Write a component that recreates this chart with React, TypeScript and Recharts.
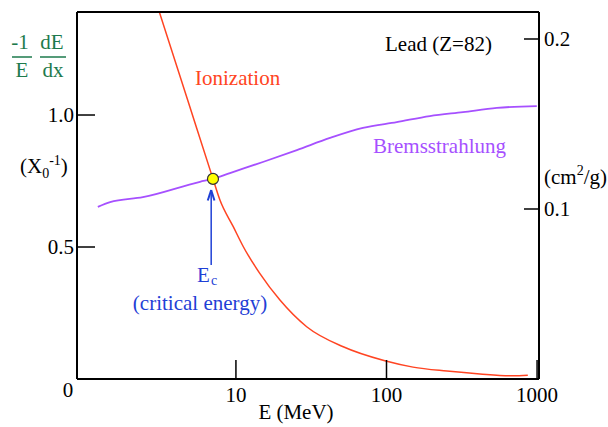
import { LineChart, Line, XAxis, YAxis, ReferenceDot, ReferenceLine } from 'recharts'

// energy loss per radiation length in lead
const ionE = [3.1, 4.78, 7.04, 7.83, 9.6, 11.2, 14.4, 19.6, 29.5, 51.6, 97.5, 150, 252, 417, 690, 868]
const ionV = [1.39, 1.057, 0.758, 0.678, 0.577, 0.501, 0.4, 0.299, 0.198, 0.122, 0.069, 0.045, 0.03, 0.019, 0.012, 0.014]

const bremE = [1.21, 1.46, 2.41, 5.77, 7.04, 9.13, 15.1, 25.4, 42.1, 69.7, 117, 194, 322, 541, 996]
const bremV = [0.652, 0.67, 0.689, 0.747, 0.758, 0.78, 0.822, 0.867, 0.913, 0.951, 0.973, 0.996, 1.011, 1.027, 1.034]

const xTicks = [10, 100, 1000]
const leftTicks = [0.5, 1.0]
const rightTicks = [0.1, 0.2]

const critE = 7.04
const critV = 0.758
// arrow pointing at the critical energy
const arrowE = 6.85
const arrowFrom = 0.432
const arrowTip = 0.716
const headLeftE = 6.5
const headRightE = 7.2
const headBase = 0.676

const ionData = ionE.map((e, i) => ({ e, v: ionV[i] }))
const bremData = bremE.map((e, i) => ({ e, v: bremV[i] }))

const FONT = 'Liberation Serif, Tinos, Times New Roman, DejaVu Serif, serif'
const RED = '#ff4422'
const PURPLE = '#a650ff'
const BLUE = '#1f40d6'
const GREEN = '#1d7a4c'

function LeftTick(p: any) {
  return (
    <g>
      <line x1={p.x} x2={p.x + 18} y1={p.y} y2={p.y} stroke="#000" strokeWidth={1.5} />
      <text x={p.x - 3} y={p.y + 7} textAnchor="end" fill="#000" fontFamily={FONT} fontSize={21}>{p.payload.value.toFixed(1)}</text>
    </g>
  )
}

function RightTick(p: any) {
  return (
    <g>
      <line x1={p.x - 15} x2={p.x} y1={p.y} y2={p.y} stroke="#000" strokeWidth={1.5} />
      <text x={p.x + 5} y={p.y + 7} textAnchor="start" fill="#000" fontFamily={FONT} fontSize={21}>{p.payload.value.toFixed(1)}</text>
    </g>
  )
}

function BottomTick(p: any) {
  return (
    <g>
      <line x1={p.x} x2={p.x} y1={p.y} y2={p.y - 19} stroke="#000" strokeWidth={1.5} />
      <text x={p.x} y={p.y + 23} textAnchor="middle" fill="#000" fontFamily={FONT} fontSize={21}>{p.payload.value}</text>
    </g>
  )
}

export default function App() {
  return (
    <div style={{ position: 'absolute', left: 0, top: 0, width: 608, height: 427, background: '#fff' }}>
      <LineChart width={608} height={427} margin={{ top: 0, right: 0, bottom: 0, left: 0 }}>
        <XAxis dataKey="e" type="number" scale="log" domain={[0.88, 1030]} allowDataOverflow ticks={xTicks}
          height={48} tickSize={0} tickMargin={0} tick={<BottomTick />} axisLine={{ stroke: '#000', strokeWidth: 2 }} />
        <XAxis xAxisId="top" orientation="top" dataKey="e" type="number" scale="log" domain={[0.88, 1030]}
          allowDataOverflow height={12} tick={false} tickLine={false} axisLine={{ stroke: '#000', strokeWidth: 2 }} />
        <YAxis yAxisId="left" type="number" domain={[0, 1.3902]} allowDataOverflow ticks={leftTicks} width={77}
          tickSize={0} tickMargin={0} tick={<LeftTick />} axisLine={{ stroke: '#000', strokeWidth: 2 }} />
        <YAxis yAxisId="right" orientation="right" type="number" domain={[0, 0.21588]} allowDataOverflow ticks={rightTicks}
          width={69} tickSize={0} tickMargin={0} tick={<RightTick />} axisLine={{ stroke: '#000', strokeWidth: 2 }} />
        <Line yAxisId="left" data={ionData} dataKey="v" type="monotone" stroke={RED} strokeWidth={1.5} dot={false} isAnimationActive={false} />
        <Line yAxisId="left" data={bremData} dataKey="v" type="monotone" stroke={PURPLE} strokeWidth={1.8} dot={false} isAnimationActive={false} />
        <ReferenceLine yAxisId="left" segment={[{ x: arrowE, y: arrowFrom }, { x: arrowE, y: arrowTip }]} stroke={BLUE} strokeWidth={1.5} />
        <ReferenceLine yAxisId="left" segment={[{ x: headLeftE, y: headBase }, { x: arrowE, y: arrowTip }]} stroke={BLUE} strokeWidth={2} />
        <ReferenceLine yAxisId="left" segment={[{ x: headRightE, y: headBase }, { x: arrowE, y: arrowTip }]} stroke={BLUE} strokeWidth={2} />
        <ReferenceDot yAxisId="left" x={critE} y={critV} r={5.5} fill="#ffff00" stroke="#333" strokeWidth={1.2} />
      </LineChart>
      <svg width={608} height={427} style={{ position: 'absolute', left: 0, top: 0, pointerEvents: 'none' }}>
        <g fill={GREEN} fontFamily={FONT} fontSize={21}>
          <text x={20} y={49} textAnchor="middle">-1</text>
          <text x={22} y={77} textAnchor="middle">E</text>
          <text x={52} y={49} textAnchor="middle">dE</text>
          <text x={53} y={77} textAnchor="middle">dx</text>
        </g>
        <line x1={12} x2={32} y1={57} y2={57} stroke={GREEN} strokeWidth={1.5} />
        <line x1={40} x2={66} y1={57} y2={57} stroke={GREEN} strokeWidth={1.5} />
        <g fontFamily={FONT} fontSize={21}>
          <text x={20} y={173} fill="#000">(X<tspan fontSize={14} dy={5}>0</tspan><tspan fontSize={14} dy={-13}>-1</tspan><tspan dy={8}>)</tspan></text>
          <text x={544} y={184} fill="#000">(cm<tspan fontSize={14} dy={-9}>2</tspan><tspan dy={9}>/g)</tspan></text>
          <text x={68} y={397} textAnchor="middle" fill="#000">0</text>
          <text x={296} y={419} textAnchor="middle" fill="#000">E (MeV)</text>
          <text x={385} y={51} fill="#000">Lead (Z=82)</text>
          <text x={195} y={85} fill={RED}>Ionization</text>
          <text x={373} y={153} fill={PURPLE}>Bremsstrahlung</text>
          <text x={197} y={282} fill={BLUE}>E</text>
          <text x={211} y={285} fill={BLUE} fontSize={14}>c</text>
          <text x={200} y={310} textAnchor="middle" fill={BLUE}>(critical energy)</text>
        </g>
      </svg>
    </div>
  )
}
